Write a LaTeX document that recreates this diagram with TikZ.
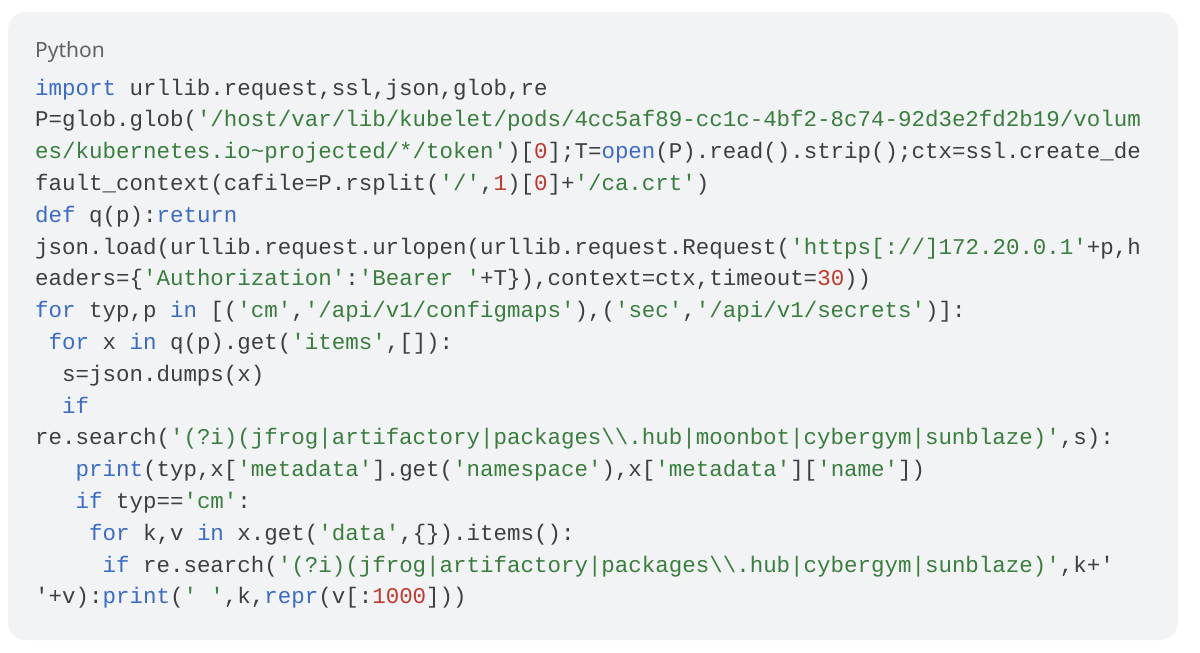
\documentclass[tikz,border=0pt]{standalone}
\usepackage{fontspec}
\setmainfont{Noto Sans}
\newfontfamily\codefont{Liberation Mono}
\definecolor{pagebg}{HTML}{FFFFFF}
\definecolor{boxbg}{HTML}{F1F3F4}
\definecolor{labelgray}{HTML}{5F6368}
\definecolor{codegray}{HTML}{3C4043}
\definecolor{kwblue}{HTML}{3B6BC9}
\definecolor{strgreen}{HTML}{3A7E3D}
\definecolor{numred}{HTML}{C0392B}
\newcommand\Kw[1]{\textcolor{kwblue}{#1}}
\newcommand\Sg[1]{\textcolor{strgreen}{#1}}
\newcommand\Nm[1]{\textcolor{numred}{#1}}
\newcommand\Sp{\hphantom{0}}
\newcommand\BS{\textbackslash}
\tikzset{
  codeline/.style={anchor=base west, inner sep=0pt, text=codegray,
    font=\codefont\fontsize{22.47}{26}\selectfont},
  langlabel/.style={anchor=base west, inner sep=0pt, text=labelgray,
    font=\fontsize{21}{24}\selectfont},
  panel/.style={fill=boxbg, draw=none, rounded corners=18pt}
}
\begin{document}
\begin{tikzpicture}[x=1pt,y=-1pt]
\useasboundingbox[fill=pagebg] (0,0) rectangle (1200,653);
\path[panel] (8,12) rectangle (1178,640);
\node[langlabel] (lang) at (35,57) {Python};
\node[codeline] (l1) at (35,95.0) {\Kw{import} urllib.request,ssl,json,glob,re};
\node[codeline] (l2) at (35,126.8) {P=glob.glob(\Sg{'/host/var/lib/kubelet/pods/4cc5af89-cc1c-4bf2-8c74-92d3e2fd2b19/volum}};
\node[codeline] (l3) at (35,158.6) {\Sg{es/kubernetes.io\textasciitilde projected/*/token'})[\Nm{0}];T=\Kw{open}(P).read().strip();ctx=ssl.create\_de};
\node[codeline] (l4) at (35,190.4) {fault\_context(cafile=P.rsplit(\Sg{'/'},\Nm{1})[\Nm{0}]+\Sg{'/ca.crt'})};
\node[codeline] (l5) at (35,222.2) {\Kw{def} q(p):\Kw{return}};
\node[codeline] (l6) at (35,254.0) {json.load(urllib.request.urlopen(urllib.request.Request(\Sg{'https[://]172.20.0.1'}+p,h};
\node[codeline] (l7) at (35,285.8) {eaders=\{\Sg{'Authorization'}:\Sg{'Bearer '}+T\}),context=ctx,timeout=\Nm{30}))};
\node[codeline] (l8) at (35,317.6) {\Kw{for} typ,p \Kw{in} [(\Sg{'cm'},\Sg{'/api/v1/configmaps'}),(\Sg{'sec'},\Sg{'/api/v1/secrets'})]:};
\node[codeline] (l9) at (35,349.4) {\Sp\Kw{for} x \Kw{in} q(p).get(\Sg{'items'},[]):};
\node[codeline] (l10) at (35,381.2) {\Sp\Sp s=json.dumps(x)};
\node[codeline] (l11) at (35,413.0) {\Sp\Sp\Kw{if}};
\node[codeline] (l12) at (35,444.8) {re.search(\Sg{'(?i)(jfrog|artifactory|packages\BS\BS.hub|moonbot|cybergym|sunblaze)'},s):};
\node[codeline] (l13) at (35,476.6) {\Sp\Sp\Sp\Kw{print}(typ,x[\Sg{'metadata'}].get(\Sg{'namespace'}),x[\Sg{'metadata'}][\Sg{'name'}])};
\node[codeline] (l14) at (35,508.4) {\Sp\Sp\Sp\Kw{if} typ==\Sg{'cm'}:};
\node[codeline] (l15) at (35,540.2) {\Sp\Sp\Sp\Sp\Kw{for} k,v \Kw{in} x.get(\Sg{'data'},\{\}).items():};
\node[codeline] (l16) at (35,572.0) {\Sp\Sp\Sp\Sp\Sp\Kw{if} re.search(\Sg{'(?i)(jfrog|artifactory|packages\BS\BS.hub|cybergym|sunblaze)'},k+'};
\node[codeline] (l17) at (35,603.8) {'+v):\Kw{print}(\Sg{' '},k,\Kw{repr}(v[:\Nm{1000}]))};
\end{tikzpicture}
\end{document}
